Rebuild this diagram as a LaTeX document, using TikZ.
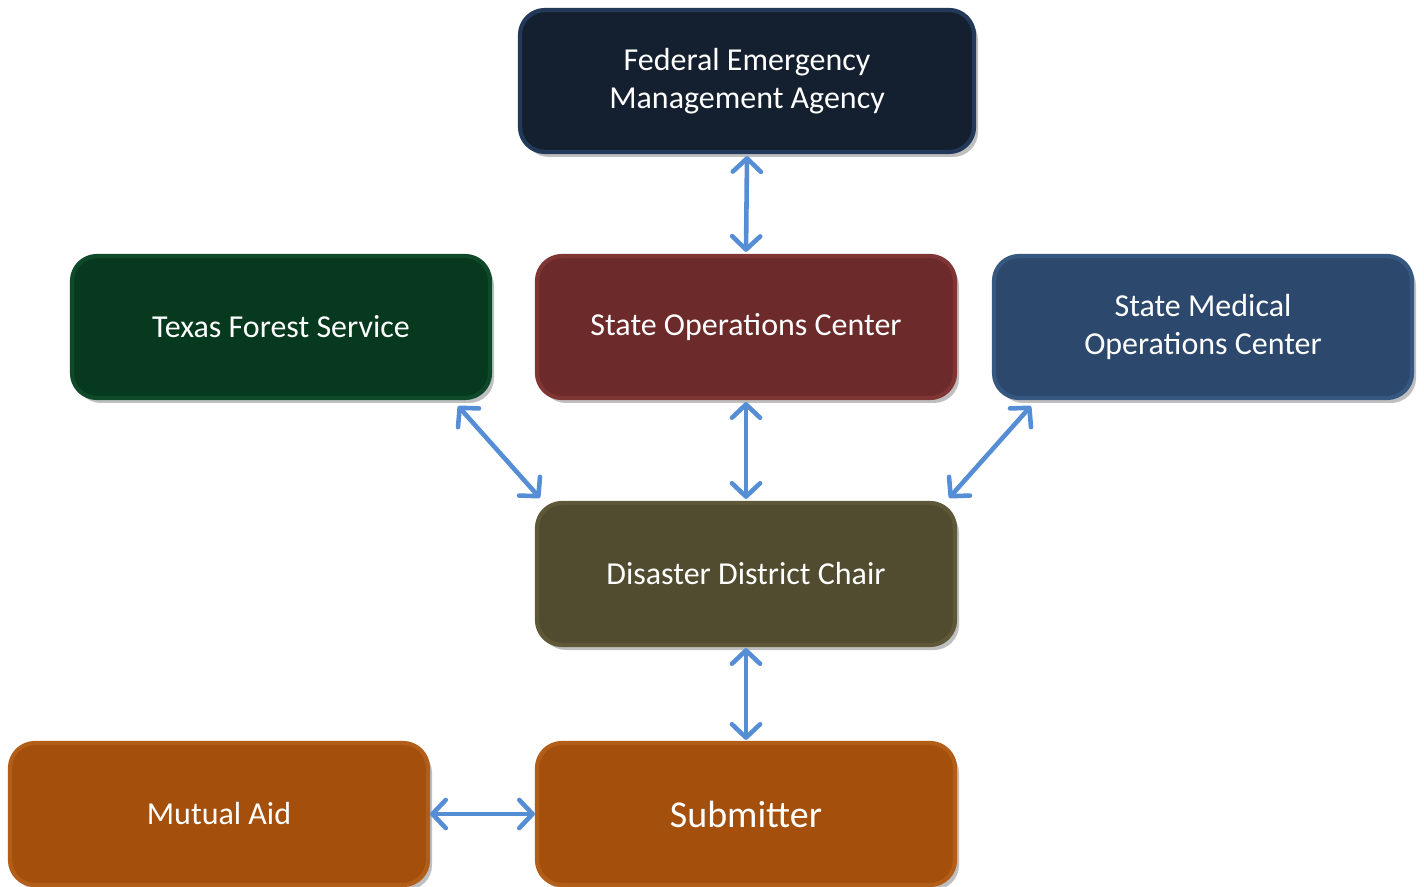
\documentclass[tikz,border=0pt]{standalone}
\usepackage{fontspec}
\setmainfont{Carlito}
\usetikzlibrary{arrows.meta,shadows,calc}

\definecolor{femablue}{HTML}{14202F}
\definecolor{femaedge}{HTML}{22395A}
\definecolor{forestgreen}{HTML}{06391D}
\definecolor{forestedge}{HTML}{0E4A2A}
\definecolor{socred}{HTML}{6C2A2A}
\definecolor{socedge}{HTML}{7E3534}
\definecolor{smocblue}{HTML}{2C486D}
\definecolor{smocedge}{HTML}{36577F}
\definecolor{ddcolive}{HTML}{514B2F}
\definecolor{ddcedge}{HTML}{5F5838}
\definecolor{suborange}{HTML}{A4500C}
\definecolor{subedge}{HTML}{B25E18}
\definecolor{linkblue}{HTML}{558ED5}

\begin{document}
\begin{tikzpicture}[
    agency/.style={rounded corners=0.25cm, draw, line width=1.2pt, text=white,
        minimum width=4.18cm, minimum height=1.42cm, align=center,
        font=\fontsize{9.1pt}{11pt}\selectfont,
        drop shadow={shadow xshift=0.04cm, shadow yshift=-0.05cm, opacity=0.5}},
    link/.style={draw=linkblue, line width=1.3pt,
        {Straight Barb[length=3.8pt,width=8pt,round]}-{Straight Barb[length=3.8pt,width=8pt,round]}}
]
    \useasboundingbox (0,0) rectangle (14.24,8.86);

    % top level
    \node[agency, fill=femablue, draw=femaedge, minimum width=4.54cm] (fema) at (7.47,8.05)
        {Federal Emergency\\Management Agency};

    % state level
    \node[agency, fill=forestgreen, draw=forestedge] (tfs)  at (2.81,5.59) {Texas Forest Service};
    \node[agency, fill=socred, draw=socedge]          (soc)  at (7.46,5.59) {State Operations Center};
    \node[agency, fill=smocblue, draw=smocedge]       (smoc) at (12.03,5.59) {State Medical\\Operations Center};

    % district level
    \node[agency, fill=ddcolive, draw=ddcedge] (ddc) at (7.46,3.12) {Disaster District Chair};

    % local level
    \node[agency, fill=suborange, draw=subedge, font=\fontsize{10.8pt}{13pt}\selectfont] (sub) at (7.46,0.72) {Submitter};
    \node[agency, fill=suborange, draw=subedge] (mutual) at (2.19,0.72) {Mutual Aid};

    \draw[link] ($(fema.south)+(0,-0.02)$) -- ($(soc.north)+(0,0.02)$);
    \draw[link] ($(soc.south)+(0,-0.02)$) -- ($(ddc.north)+(0,0.02)$);
    \draw[link] ($(tfs.south east)+(-0.34,-0.06)$) -- ($(ddc.north west)+(0.05,0.03)$);
    \draw[link] ($(smoc.south west)+(0.39,-0.06)$) -- ($(ddc.north east)+(-0.08,0.03)$);
    \draw[link] ($(ddc.south)+(0,-0.01)$) -- ($(sub.north)+(0,0.01)$);
    \draw[link] (mutual.east) -- (sub.west);
\end{tikzpicture}
\end{document}
